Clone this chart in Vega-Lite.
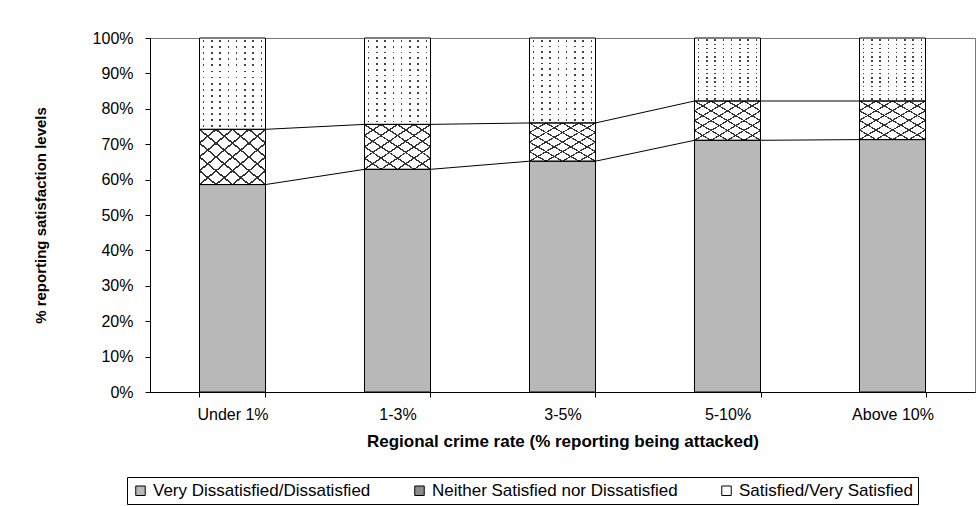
{
  "$schema": "https://vega.github.io/schema/vega-lite/v6.json",
  "width": 825,
  "height": 354,
  "autosize": {"type": "none"},
  "padding": {"left": 150, "top": 38, "right": 2, "bottom": 114},
  "background": "white",
  "config": {
    "font": "Liberation Sans",
    "view": {"stroke": "#777777", "strokeWidth": 1},
    "axis": {"grid": false, "domainColor": "black", "tickColor": "black", "labelColor": "black", "titleColor": "black"}
  },
  "datasets": {
    "shares": [
      {"region": "Under 1%", "level": "Very Dissatisfied/Dissatisfied", "share": 58.6},
      {"region": "Under 1%", "level": "Neither Satisfied nor Dissatisfied", "share": 15.6},
      {"region": "Under 1%", "level": "Satisfied/Very Satisfied", "share": 25.8},
      {"region": "1-3%", "level": "Very Dissatisfied/Dissatisfied", "share": 62.9},
      {"region": "1-3%", "level": "Neither Satisfied nor Dissatisfied", "share": 12.7},
      {"region": "1-3%", "level": "Satisfied/Very Satisfied", "share": 24.4},
      {"region": "3-5%", "level": "Very Dissatisfied/Dissatisfied", "share": 65.2},
      {"region": "3-5%", "level": "Neither Satisfied nor Dissatisfied", "share": 10.8},
      {"region": "3-5%", "level": "Satisfied/Very Satisfied", "share": 24.0},
      {"region": "5-10%", "level": "Very Dissatisfied/Dissatisfied", "share": 71.1},
      {"region": "5-10%", "level": "Neither Satisfied nor Dissatisfied", "share": 11.1},
      {"region": "5-10%", "level": "Satisfied/Very Satisfied", "share": 17.8},
      {"region": "Above 10%", "level": "Very Dissatisfied/Dissatisfied", "share": 71.3},
      {"region": "Above 10%", "level": "Neither Satisfied nor Dissatisfied", "share": 10.9},
      {"region": "Above 10%", "level": "Satisfied/Very Satisfied", "share": 17.8}
    ],
    "links": [
      {"boundary": "lower", "from": "Under 1%", "to": "1-3%", "start": 58.6, "end": 62.9},
      {"boundary": "lower", "from": "1-3%", "to": "3-5%", "start": 62.9, "end": 65.2},
      {"boundary": "lower", "from": "3-5%", "to": "5-10%", "start": 65.2, "end": 71.1},
      {"boundary": "lower", "from": "5-10%", "to": "Above 10%", "start": 71.1, "end": 71.3},
      {"boundary": "upper", "from": "Under 1%", "to": "1-3%", "start": 74.2, "end": 75.6},
      {"boundary": "upper", "from": "1-3%", "to": "3-5%", "start": 75.6, "end": 76.0},
      {"boundary": "upper", "from": "3-5%", "to": "5-10%", "start": 76.0, "end": 82.2},
      {"boundary": "upper", "from": "5-10%", "to": "Above 10%", "start": 82.2, "end": 82.2}
    ]
  },
  "layer": [
    {
      "data": {"name": "shares"},
      "transform": [{"stack": "share", "groupby": ["region"], "as": ["y0", "y1"]}],
      "encoding": {
        "x": {
          "field": "region", "type": "nominal",
          "scale": {"domain": ["Under 1%", "1-3%", "3-5%", "5-10%", "Above 10%"], "paddingInner": 0.6, "paddingOuter": 0.3},
          "axis": {"title": "Regional crime rate (% reporting being attacked)", "titleFontWeight": "bold", "titleFontSize": 17, "labelFontSize": 16, "labelAngle": 0, "tickBand": "extent", "tickSize": 5, "labelPadding": 9, "titlePadding": 11}
        },
        "y": {"field": "y1", "type": "quantitative", "scale": {"domain": [0, 100]},
          "axis": {"title": "% reporting satisfaction levels", "titleFontWeight": "bold", "titleFontSize": 15, "labelFontSize": 16, "values": [0, 10, 20, 30, 40, 50, 60, 70, 80, 90, 100], "labelExpr": "datum.value + '%'", "labelOverlap": false, "tickSize": 5, "labelPadding": 12, "titlePadding": 44}},
        "y2": {"field": "y0"}
      },
      "layer": [
        {
          "mark": {"type": "bar"},
          "encoding": {
            "color": {"field": "level", "type": "nominal",
              "scale": {"domain": ["Very Dissatisfied/Dissatisfied", "Neither Satisfied nor Dissatisfied", "Satisfied/Very Satisfied"], "range": ["#b8b8b8", "#8c8c8c", "#ffffff"]},
              "legend": {"title": null, "orient": "none", "legendX": -23, "legendY": 439, "direction": "horizontal", "strokeColor": "black", "fillColor": "white", "padding": 5, "symbolType": "square", "symbolSize": 90, "symbolStrokeColor": "black", "symbolStrokeWidth": 1, "symbolOpacity": 1, "labelFontSize": 17, "labelLimit": 0, "labelColor": "black", "columnPadding": 40, "labelOffset": 4}}
          }
        },
        {
          "transform": [{"filter": "datum.level === 'Satisfied/Very Satisfied'"}],
          "mark": {"type": "bar", "fill": "#444444"}
        },
        {
          "transform": [{"filter": "datum.level === 'Satisfied/Very Satisfied'"}],
          "mark": {"type": "bar", "fill": {"gradient": "linear", "x1": 0, "y1": 0, "x2": 1, "y2": 0, "stops": [
            {"offset": 0, "color": "#ffffff"}, {"offset": 0.05, "color": "#ffffff"}, {"offset": 0.05, "color": "rgba(255,255,255,0)"}, {"offset": 0.075, "color": "rgba(255,255,255,0)"},
            {"offset": 0.075, "color": "#ffffff"}, {"offset": 0.175, "color": "#ffffff"}, {"offset": 0.175, "color": "rgba(255,255,255,0)"}, {"offset": 0.2, "color": "rgba(255,255,255,0)"},
            {"offset": 0.2, "color": "#ffffff"}, {"offset": 0.3, "color": "#ffffff"}, {"offset": 0.3, "color": "rgba(255,255,255,0)"}, {"offset": 0.325, "color": "rgba(255,255,255,0)"},
            {"offset": 0.325, "color": "#ffffff"}, {"offset": 0.425, "color": "#ffffff"}, {"offset": 0.425, "color": "rgba(255,255,255,0)"}, {"offset": 0.45, "color": "rgba(255,255,255,0)"},
            {"offset": 0.45, "color": "#ffffff"}, {"offset": 0.55, "color": "#ffffff"}, {"offset": 0.55, "color": "rgba(255,255,255,0)"}, {"offset": 0.575, "color": "rgba(255,255,255,0)"},
            {"offset": 0.575, "color": "#ffffff"}, {"offset": 0.675, "color": "#ffffff"}, {"offset": 0.675, "color": "rgba(255,255,255,0)"}, {"offset": 0.7, "color": "rgba(255,255,255,0)"},
            {"offset": 0.7, "color": "#ffffff"}, {"offset": 0.8, "color": "#ffffff"}, {"offset": 0.8, "color": "rgba(255,255,255,0)"}, {"offset": 0.825, "color": "rgba(255,255,255,0)"},
            {"offset": 0.825, "color": "#ffffff"}, {"offset": 0.925, "color": "#ffffff"}, {"offset": 0.925, "color": "rgba(255,255,255,0)"}, {"offset": 0.95, "color": "rgba(255,255,255,0)"},
            {"offset": 0.95, "color": "#ffffff"}, {"offset": 1, "color": "#ffffff"}
          ]}}
        },
        {
          "transform": [{"filter": "datum.level === 'Satisfied/Very Satisfied'"}],
          "mark": {"type": "bar", "fill": {"gradient": "linear", "x1": 0, "y1": 0, "x2": 0, "y2": 1, "stops": [
            {"offset": 0, "color": "#ffffff"}, {"offset": 0.0233, "color": "#ffffff"}, {"offset": 0.0233, "color": "rgba(255,255,255,0)"}, {"offset": 0.0433, "color": "rgba(255,255,255,0)"},
            {"offset": 0.0433, "color": "#ffffff"}, {"offset": 0.09, "color": "#ffffff"}, {"offset": 0.09, "color": "rgba(255,255,255,0)"}, {"offset": 0.11, "color": "rgba(255,255,255,0)"},
            {"offset": 0.11, "color": "#ffffff"}, {"offset": 0.1567, "color": "#ffffff"}, {"offset": 0.1567, "color": "rgba(255,255,255,0)"}, {"offset": 0.1767, "color": "rgba(255,255,255,0)"},
            {"offset": 0.1767, "color": "#ffffff"}, {"offset": 0.2233, "color": "#ffffff"}, {"offset": 0.2233, "color": "rgba(255,255,255,0)"}, {"offset": 0.2433, "color": "rgba(255,255,255,0)"},
            {"offset": 0.2433, "color": "#ffffff"}, {"offset": 0.29, "color": "#ffffff"}, {"offset": 0.29, "color": "rgba(255,255,255,0)"}, {"offset": 0.31, "color": "rgba(255,255,255,0)"},
            {"offset": 0.31, "color": "#ffffff"}, {"offset": 0.3567, "color": "#ffffff"}, {"offset": 0.3567, "color": "rgba(255,255,255,0)"}, {"offset": 0.3767, "color": "rgba(255,255,255,0)"},
            {"offset": 0.3767, "color": "#ffffff"}, {"offset": 0.4233, "color": "#ffffff"}, {"offset": 0.4233, "color": "rgba(255,255,255,0)"}, {"offset": 0.4433, "color": "rgba(255,255,255,0)"},
            {"offset": 0.4433, "color": "#ffffff"}, {"offset": 0.49, "color": "#ffffff"}, {"offset": 0.49, "color": "rgba(255,255,255,0)"}, {"offset": 0.51, "color": "rgba(255,255,255,0)"},
            {"offset": 0.51, "color": "#ffffff"}, {"offset": 0.5567, "color": "#ffffff"}, {"offset": 0.5567, "color": "rgba(255,255,255,0)"}, {"offset": 0.5767, "color": "rgba(255,255,255,0)"},
            {"offset": 0.5767, "color": "#ffffff"}, {"offset": 0.6233, "color": "#ffffff"}, {"offset": 0.6233, "color": "rgba(255,255,255,0)"}, {"offset": 0.6433, "color": "rgba(255,255,255,0)"},
            {"offset": 0.6433, "color": "#ffffff"}, {"offset": 0.69, "color": "#ffffff"}, {"offset": 0.69, "color": "rgba(255,255,255,0)"}, {"offset": 0.71, "color": "rgba(255,255,255,0)"},
            {"offset": 0.71, "color": "#ffffff"}, {"offset": 0.7567, "color": "#ffffff"}, {"offset": 0.7567, "color": "rgba(255,255,255,0)"}, {"offset": 0.7767, "color": "rgba(255,255,255,0)"},
            {"offset": 0.7767, "color": "#ffffff"}, {"offset": 0.8233, "color": "#ffffff"}, {"offset": 0.8233, "color": "rgba(255,255,255,0)"}, {"offset": 0.8433, "color": "rgba(255,255,255,0)"},
            {"offset": 0.8433, "color": "#ffffff"}, {"offset": 0.89, "color": "#ffffff"}, {"offset": 0.89, "color": "rgba(255,255,255,0)"}, {"offset": 0.91, "color": "rgba(255,255,255,0)"},
            {"offset": 0.91, "color": "#ffffff"}, {"offset": 0.9567, "color": "#ffffff"}, {"offset": 0.9567, "color": "rgba(255,255,255,0)"}, {"offset": 0.9767, "color": "rgba(255,255,255,0)"},
            {"offset": 0.9767, "color": "#ffffff"}, {"offset": 1, "color": "#ffffff"}
          ]}}
        },
        {
          "transform": [{"filter": "datum.level === 'Neither Satisfied nor Dissatisfied'"}],
          "mark": {"type": "bar", "fill": "#ffffff"}
        },
        {
          "transform": [{"filter": "datum.level === 'Neither Satisfied nor Dissatisfied'"}],
          "mark": {"type": "bar", "fill": {"gradient": "linear", "x1": 0, "y1": 0, "x2": 1, "y2": 1, "stops": [
            {"offset": 0, "color": "#333333"}, {"offset": 0.009, "color": "#333333"}, {"offset": 0.009, "color": "rgba(51,51,51,0)"}, {"offset": 0.116, "color": "rgba(51,51,51,0)"},
            {"offset": 0.116, "color": "#333333"}, {"offset": 0.134, "color": "#333333"}, {"offset": 0.134, "color": "rgba(51,51,51,0)"}, {"offset": 0.241, "color": "rgba(51,51,51,0)"},
            {"offset": 0.241, "color": "#333333"}, {"offset": 0.259, "color": "#333333"}, {"offset": 0.259, "color": "rgba(51,51,51,0)"}, {"offset": 0.366, "color": "rgba(51,51,51,0)"},
            {"offset": 0.366, "color": "#333333"}, {"offset": 0.384, "color": "#333333"}, {"offset": 0.384, "color": "rgba(51,51,51,0)"}, {"offset": 0.491, "color": "rgba(51,51,51,0)"},
            {"offset": 0.491, "color": "#333333"}, {"offset": 0.509, "color": "#333333"}, {"offset": 0.509, "color": "rgba(51,51,51,0)"}, {"offset": 0.616, "color": "rgba(51,51,51,0)"},
            {"offset": 0.616, "color": "#333333"}, {"offset": 0.634, "color": "#333333"}, {"offset": 0.634, "color": "rgba(51,51,51,0)"}, {"offset": 0.741, "color": "rgba(51,51,51,0)"},
            {"offset": 0.741, "color": "#333333"}, {"offset": 0.759, "color": "#333333"}, {"offset": 0.759, "color": "rgba(51,51,51,0)"}, {"offset": 0.866, "color": "rgba(51,51,51,0)"},
            {"offset": 0.866, "color": "#333333"}, {"offset": 0.884, "color": "#333333"}, {"offset": 0.884, "color": "rgba(51,51,51,0)"}, {"offset": 0.991, "color": "rgba(51,51,51,0)"},
            {"offset": 0.991, "color": "#333333"}, {"offset": 1, "color": "#333333"}
          ]}}
        },
        {
          "transform": [{"filter": "datum.level === 'Neither Satisfied nor Dissatisfied'"}],
          "mark": {"type": "bar", "fill": {"gradient": "linear", "x1": 1, "y1": 0, "x2": 0, "y2": 1, "stops": [
            {"offset": 0, "color": "#333333"}, {"offset": 0.009, "color": "#333333"}, {"offset": 0.009, "color": "rgba(51,51,51,0)"}, {"offset": 0.116, "color": "rgba(51,51,51,0)"},
            {"offset": 0.116, "color": "#333333"}, {"offset": 0.134, "color": "#333333"}, {"offset": 0.134, "color": "rgba(51,51,51,0)"}, {"offset": 0.241, "color": "rgba(51,51,51,0)"},
            {"offset": 0.241, "color": "#333333"}, {"offset": 0.259, "color": "#333333"}, {"offset": 0.259, "color": "rgba(51,51,51,0)"}, {"offset": 0.366, "color": "rgba(51,51,51,0)"},
            {"offset": 0.366, "color": "#333333"}, {"offset": 0.384, "color": "#333333"}, {"offset": 0.384, "color": "rgba(51,51,51,0)"}, {"offset": 0.491, "color": "rgba(51,51,51,0)"},
            {"offset": 0.491, "color": "#333333"}, {"offset": 0.509, "color": "#333333"}, {"offset": 0.509, "color": "rgba(51,51,51,0)"}, {"offset": 0.616, "color": "rgba(51,51,51,0)"},
            {"offset": 0.616, "color": "#333333"}, {"offset": 0.634, "color": "#333333"}, {"offset": 0.634, "color": "rgba(51,51,51,0)"}, {"offset": 0.741, "color": "rgba(51,51,51,0)"},
            {"offset": 0.741, "color": "#333333"}, {"offset": 0.759, "color": "#333333"}, {"offset": 0.759, "color": "rgba(51,51,51,0)"}, {"offset": 0.866, "color": "rgba(51,51,51,0)"},
            {"offset": 0.866, "color": "#333333"}, {"offset": 0.884, "color": "#333333"}, {"offset": 0.884, "color": "rgba(51,51,51,0)"}, {"offset": 0.991, "color": "rgba(51,51,51,0)"},
            {"offset": 0.991, "color": "#333333"}, {"offset": 1, "color": "#333333"}
          ]}}
        },
        {
          "mark": {"type": "bar", "fill": "transparent", "stroke": "black", "strokeWidth": 1}
        }
      ]
    },
    {
      "data": {"name": "links"},
      "mark": {"type": "rule", "color": "black", "strokeWidth": 1},
      "encoding": {
        "x": {"field": "from", "type": "nominal", "bandPosition": 1},
        "x2": {"field": "to", "bandPosition": 0},
        "y": {"field": "start", "type": "quantitative",
          "axis": {"title": "% reporting satisfaction levels", "titleFontWeight": "bold", "titleFontSize": 15, "labelFontSize": 16, "values": [0, 10, 20, 30, 40, 50, 60, 70, 80, 90, 100], "labelExpr": "datum.value + '%'", "labelOverlap": false, "tickSize": 5, "labelPadding": 12, "titlePadding": 44}},
        "y2": {"field": "end"}
      }
    }
  ]
}
